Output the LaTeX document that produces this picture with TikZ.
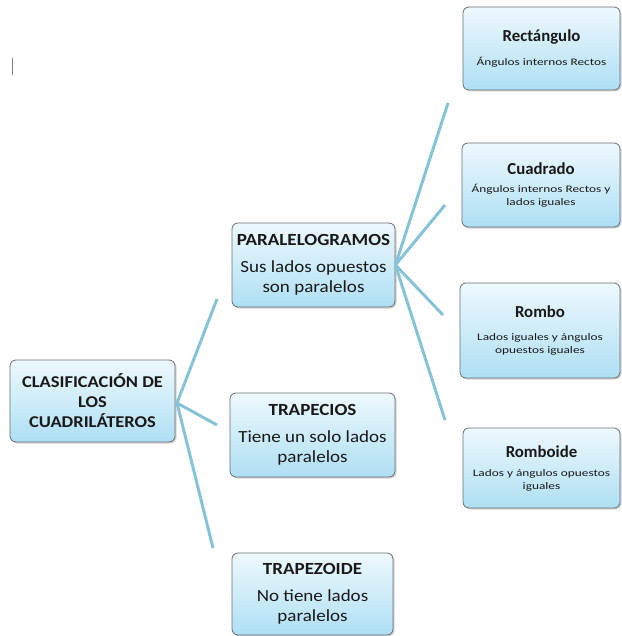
\documentclass[tikz,border=0pt]{standalone}
\usepackage{fontspec}
\setmainfont{Carlito}
\newfontfamily\midfont[FakeStretch=1.12]{Carlito}
\newfontfamily\subfont[FakeStretch=1.33]{Carlito}
\usetikzlibrary{shadows}
\definecolor{boxtop}{RGB}{238,249,253}
\definecolor{boxbot}{RGB}{174,223,244}
\definecolor{boxline}{RGB}{105,110,115}
\definecolor{linkc}{RGB}{135,195,214}
\definecolor{txt}{RGB}{25,25,25}
\newcommand{\rootf}{\midfont\fontsize{16.5}{20}\selectfont\bfseries}
\newcommand{\midf}{\midfont\fontsize{17}{20}\selectfont}
\newcommand{\subf}{\subfont\fontsize{10}{13}\selectfont}
\newcommand{\subtitle}[1]{{\rmfamily\fontsize{16.8}{16.8}\selectfont\bfseries #1}}
\tikzset{
  box/.style={draw=boxline, line width=0.8pt, rounded corners=6pt,
    top color=boxtop, bottom color=boxbot, align=center, text=txt,
    inner sep=0pt,
    drop shadow={shadow xshift=1.5pt, shadow yshift=-1.5pt, opacity=0.35, fill=gray}},
  bigbox/.style={box, font=\midf, minimum width=163pt, minimum height=84pt},
  smallbox/.style={box, font=\subf, minimum width=157pt, minimum height=83pt},
  link/.style={draw=linkc, line width=3pt},
}
\begin{document}
\begin{tikzpicture}[x=1pt,y=-1pt]
\useasboundingbox (0,0) rectangle (621,636);
\draw[gray, line width=1pt] (12,58) -- (12,75);
% level 0
\node[box, font=\rootf, minimum width=165pt, minimum height=82pt] (root) at (92.5,401)
  {CLASIFICACIÓN DE\\LOS\\CUADRILÁTEROS};
% level 1
\node[bigbox] (par) at (313.5,265)
  {{\bfseries PARALELOGRAMOS}\\[7pt]Sus lados opuestos\\son paralelos};
\node[bigbox, minimum width=165pt] (tra) at (312.5,435)
  {{\bfseries TRAPECIOS}\\[7pt]Tiene un solo lados\\paralelos};
\node[bigbox, minimum width=161pt, minimum height=82pt] (tz) at (312.5,594)
  {{\bfseries TRAPEZOIDE}\\[7pt]No tiene lados\\paralelos};
% level 2
\node[smallbox] (rec) at (541.5,48.5)
  {\subtitle{Rectángulo}\\[11pt]Ángulos internos Rectos};
\node[smallbox, minimum width=158pt, minimum height=84pt] (cua) at (541,185)
  {\subtitle{Cuadrado}\\[5pt]Ángulos internos Rectos y\\lados iguales};
\node[smallbox, minimum width=160pt, minimum height=95pt] (rom) at (540,330.5)
  {\subtitle{Rombo}\\[10pt]Lados iguales y ángulos\\opuestos iguales};
\node[smallbox, minimum height=80pt] (rbd) at (541.5,468)
  {\subtitle{Romboide}\\[6pt]Lados y ángulos opuestos\\iguales};
% connectors
\coordinate (h0) at (177,403);
\coordinate (e1) at (217,299);
\coordinate (e2) at (217,425);
\coordinate (e3) at (213,548);
\draw[link] (e1) -- (h0) -- (e2);
\draw[link] (h0) -- (e3);
\coordinate (h1) at (par.east);
\coordinate (f1) at (448,103);
\coordinate (f2) at (445,205);
\coordinate (f3) at (443,315);
\coordinate (f4) at (445,420);
\draw[link] (h1) -- (f1);
\draw[link] (h1) -- (f2);
\draw[link] (h1) -- (f3);
\draw[link] (h1) -- (f4);
\end{tikzpicture}
\end{document}
